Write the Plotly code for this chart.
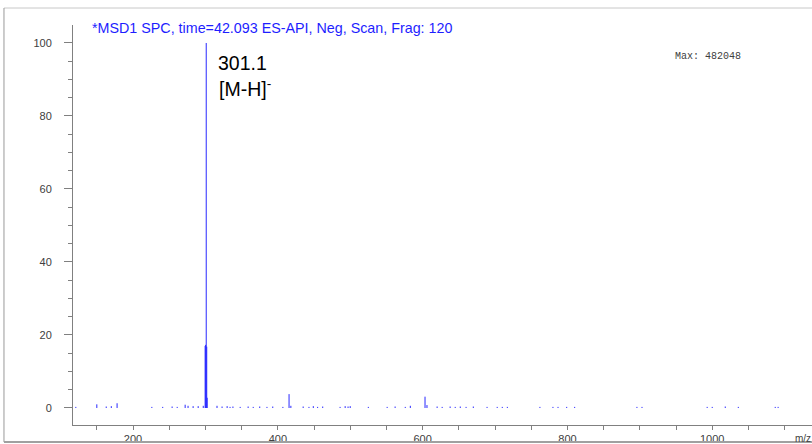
import plotly.graph_objects as go

# ---- data ----
mz = [121, 150, 163, 170, 178, 226, 241, 254, 261, 272, 276, 283, 290, 297,
      299.6, 300.3, 301.1, 301.8, 302.4,
      316, 323, 330, 334, 338, 348, 359, 366, 375, 385, 393, 407, 415.5, 418,
      435, 443, 449, 455, 462, 486, 493, 497, 500, 525, 551, 562, 576, 583,
      603.3, 606, 620, 627, 638, 645, 652, 660, 670, 689, 703, 710, 717,
      762, 780, 787, 799, 810, 896, 903, 993, 1000, 1018, 1036, 1087, 1091]
intensity = [0.3, 1.0, 0.4, 0.5, 1.3, 0.3, 0.3, 0.4, 0.3, 0.9, 0.6, 0.5, 0.5, 0.6,
             17.0, 17.3, 100, 16.8, 2.8,
             0.6, 0.4, 0.5, 0.3, 0.4, 0.3, 0.4, 0.3, 0.4, 0.3, 0.4, 0.3, 3.8, 0.6,
             0.4, 0.3, 0.5, 0.3, 0.4, 0.3, 0.5, 0.4, 0.5, 0.3, 0.3, 0.4, 0.3, 0.6,
             3.1, 0.8, 0.4, 0.3, 0.4, 0.3, 0.4, 0.3, 0.4, 0.3, 0.3, 0.3, 0.3,
             0.3, 0.3, 0.3, 0.3, 0.3, 0.3, 0.3, 0.3, 0.3, 0.4, 0.3, 0.3, 0.3]
x_ticks = [200, 400, 600, 800, 1000]
y_ticks = [0, 20, 40, 60, 80, 100]
title_text = "*MSD1 SPC, time=42.093 ES-API, Neg, Scan, Frag: 120"
max_text = "Max: 482048"
peak_label = "301.1"
ion_label = "[M-H]<sup>-</sup>"

# stick spectrum built from the data
xs, ys = [], []
for m, h in zip(mz, intensity):
    xs += [m, m, None]
    ys += [0, h, None]

fig = go.Figure()
fig.add_trace(go.Scatter(x=xs, y=ys, mode="lines",
                         line=dict(color="rgb(40,40,255)", width=1),
                         hoverinfo="skip", showlegend=False))

axis_gray = "#808080"
fig.update_layout(
    width=812, height=444,
    margin=dict(l=73, r=0, t=25, b=19),
    paper_bgcolor="white", plot_bgcolor="white",
    font=dict(family="Liberation Sans, Arial, sans-serif", size=11, color="#404040"),
    xaxis=dict(range=[117.1, 1137.8], showgrid=False, zeroline=False,
               showline=True, linecolor=axis_gray, linewidth=1,
               tickvals=x_ticks, ticks="outside", ticklen=4, tickcolor=axis_gray,
               minor=dict(dtick=50, tick0=0, ticks="outside", ticklen=4, tickcolor=axis_gray),
               tickfont=dict(size=11, color="#404040")),
    yaxis=dict(range=[-4.66, 104.93], showgrid=False, zeroline=False,
               showline=True, linecolor=axis_gray, linewidth=1,
               tickvals=y_ticks, ticks="outside", ticklen=8, tickcolor=axis_gray,
               ticklabelstandoff=10,
               minor=dict(dtick=5, tick0=0, ticks="outside", ticklen=4, tickcolor=axis_gray),
               tickfont=dict(size=11, color="#404040")),
)

# outer frame
fig.add_shape(type="line", xref="paper", yref="paper", x0=-0.0934, x1=1.0, y0=1.0425, y1=1.0425,
              line=dict(color="#c8c8c8", width=1))
fig.add_shape(type="line", xref="paper", yref="paper", x0=-0.0934, x1=-0.0934, y0=1.0425, y1=-0.0425,
              line=dict(color="#999999", width=1))
fig.add_shape(type="line", xref="paper", yref="paper", x0=-0.0934, x1=1.0, y0=-0.0425, y1=-0.0425,
              line=dict(color="#a0a0a0", width=2))

fig.add_annotation(text=title_text, xref="paper", yref="paper", x=0.0230, y=0.9925,
                   xanchor="left", yanchor="middle", showarrow=False,
                   font=dict(size=14.3, color="#1e1eff", family="Liberation Sans, Arial, sans-serif"))
fig.add_annotation(text=peak_label, xref="paper", yref="paper", x=0.194, y=0.905,
                   xanchor="left", yanchor="middle", showarrow=False,
                   font=dict(size=19.5, color="black"))
fig.add_annotation(text=ion_label, xref="paper", yref="paper", x=0.195, y=0.842,
                   xanchor="left", yanchor="middle", showarrow=False,
                   font=dict(size=19.5, color="black"))
fig.add_annotation(text=max_text, xref="paper", yref="paper", x=0.8115, y=0.92,
                   xanchor="left", yanchor="middle", showarrow=False,
                   font=dict(size=10, color="#404040", family="Liberation Mono, Courier New, monospace"))
fig.add_annotation(text="m/z", xref="paper", yref="paper", x=0.974, y=-0.033,
                   xanchor="left", yanchor="middle", showarrow=False,
                   font=dict(size=10, color="#404040"))

fig.write_html("out.html", config={"displayModeBar": False},
               post_script="document.body.style.margin='0';document.body.style.padding='0';")
